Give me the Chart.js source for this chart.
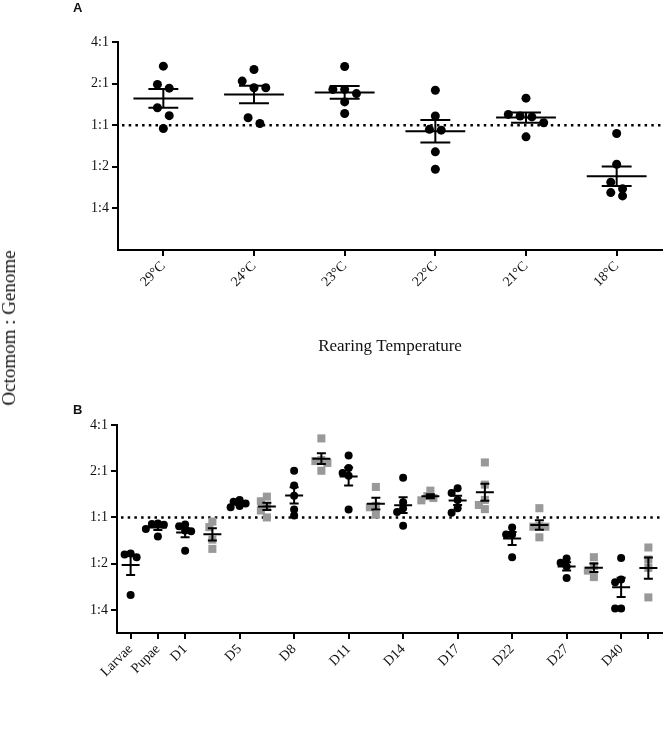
<!DOCTYPE html>
<html>
<head>
<meta charset="utf-8">
<script src="https://cdn.jsdelivr.net/npm/chart.js@4.4.1/dist/chart.umd.min.js"></script>
<style>
  body { margin: 0; background: #fff; }
  #page { position: relative; width: 672px; height: 730px; overflow: hidden; color: #111; font-family: 'Liberation Serif', 'Times New Roman', serif; }
  canvas { position: absolute; left: 0; }
  #chartA { top: 0; }
  #chartB { top: 380px; }
  .panel { position: absolute; left: 73px; font-family: 'Liberation Sans', Arial, sans-serif; font-weight: bold; font-size: 13px; line-height: 15px; }
  #yTitle { position: absolute; left: 9px; top: 328px; transform: translate(-50%, -50%) rotate(-90deg); white-space: nowrap; font-size: 19px; }
</style>
</head>
<body>
<div id="page">
  <canvas id="chartA" width="672" height="361"></canvas>
  <canvas id="chartB" width="672" height="350"></canvas>
  <div class="panel" style="top:0px">A</div>
  <div class="panel" style="top:402px">B</div>
  <div id="yTitle">Octomom : Genome</div>
</div>
<script>
// y axis: log2 of the Octomom : Genome ratio
const yTickValues = [2, 1, 0, -1, -2];
const yTickLabels = ['4:1', '2:1', '1:1', '1:2', '1:4'];

// Panel A - rearing temperature
const tempLabels = ['29°C', '24°C', '23°C', '22°C', '21°C', '18°C'];
const temp29 = [1.42, 0.98, 0.89, 0.42, 0.23, -0.08];
const temp24 = [1.34, 1.06, 0.90, 0.90, 0.18, 0.04];
const temp23 = [1.41, 0.86, 0.86, 0.76, 0.56, 0.28];
const temp22 = [0.84, 0.22, -0.10, -0.12, -0.64, -1.06];
const temp21 = [0.65, 0.26, 0.22, 0.20, 0.06, -0.28];
const temp18 = [-0.20, -0.94, -1.37, -1.53, -1.62, -1.70];

// Panel B - life stage / age (black circles and grey squares)
const stageLabels = ['Larvae', 'Pupae', 'D1', 'D5', 'D8', 'D11', 'D14', 'D17', 'D22', 'D27', 'D40', ''];
const stageTicks = [0, 1, 2, 4, 6, 8, 10, 12, 14, 16, 18, 19];
const blackValues = [
  [-0.78, -0.86, -0.80, -1.68],
  [-0.14, -0.13, -0.16, -0.25, -0.41],
  [-0.15, -0.19, -0.28, -0.30, -0.72],
  [0.38, 0.34, 0.30, 0.25, 0.22],
  [1.01, 0.69, 0.47, 0.17, 0.04],
  [1.34, 1.07, 0.96, 0.90, 0.17],
  [0.86, 0.33, 0.20, 0.12, -0.18],
  [0.63, 0.53, 0.38, 0.20, 0.10],
  [-0.22, -0.37, -0.37, -0.86],
  [-0.89, -0.98, -1.06, -1.31],
  [-0.88, -1.34, -1.40, -1.97, -1.97]
];
// grey series starts at D1
const greyValues = [
  [-0.09, -0.21, -0.48, -0.68],
  [0.45, 0.35, 0.24, 0.15, 0.00],
  [1.71, 1.24, 1.22, 1.18, 1.01],
  [0.66, 0.25, 0.22, 0.06],
  [0.58, 0.46, 0.42, 0.37],
  [1.19, 0.71, 0.38, 0.27, 0.18],
  [0.20, -0.19, -0.20, -0.20, -0.43],
  [-0.86, -1.05, -1.15, -1.29],
  [-0.65, -0.91, -1.09, -1.73]
];

const serif = "'Liberation Serif', 'Times New Roman', serif";

// panel A: points at about the same height go into a centred row
function swarmRows(values, center, sep, yTol) {
  const sorted = values.slice().sort((a, b) => b - a);
  const pts = [];
  let i = 0;
  while (i < sorted.length) {
    let j = i;
    while (j + 1 < sorted.length && sorted[i] - sorted[j + 1] < yTol) j++;
    const n = j - i + 1;
    for (let k = 0; k < n; k++) {
      pts.push({ x: center + (k - (n - 1) / 2) * sep, y: sorted[i + k] });
    }
    i = j + 1;
  }
  return pts;
}

// panel B: pack points next to the centre, letting them overlap a little
// (xPx / yPx = rough pixels per unit, only used for spacing)
function swarmPack(values, center, xPx, yPx, step, minDist) {
  const sorted = values.slice().sort((a, b) => b - a);
  const placed = [];
  return sorted.map(v => {
    for (let k = 0; k < 15; k++) {
      const off = (k === 0 ? 0 : (k % 2 ? -1 : 1) * Math.ceil(k / 2)) * step;
      const clash = placed.some(p => Math.hypot(p.off - off, (p.v - v) * yPx) < minDist);
      if (!clash) {
        placed.push({ off, v });
        return { x: center + off / xPx, y: v };
      }
    }
    return { x: center, y: v };
  });
}

function stats(values) {
  const n = values.length;
  const mean = values.reduce((a, b) => a + b, 0) / n;
  const sd = Math.sqrt(values.reduce((a, b) => a + (b - mean) ** 2, 0) / (n - 1));
  return { mean, sem: sd / Math.sqrt(n) };
}

// mean line with SEM whiskers, drawn over the points
function meanSemPlugin(groups) {
  return {
    id: 'meanSem',
    afterDatasetsDraw(chart) {
      const { ctx, scales: { x, y } } = chart;
      ctx.save();
      ctx.strokeStyle = '#000';
      ctx.lineWidth = 2;
      groups.forEach(g => {
        const s = stats(g.values);
        const ym = y.getPixelForValue(s.mean);
        const yt = y.getPixelForValue(s.mean + s.sem);
        const yb = y.getPixelForValue(s.mean - s.sem);
        const xc = x.getPixelForValue(g.x);
        const mw = x.getPixelForValue(g.x + 0.33) - xc;
        const cw = x.getPixelForValue(g.x + 0.165) - xc;
        ctx.beginPath();
        ctx.moveTo(xc - mw, ym); ctx.lineTo(xc + mw, ym);
        ctx.moveTo(xc, yt); ctx.lineTo(xc, yb);
        ctx.moveTo(xc - cw, yt); ctx.lineTo(xc + cw, yt);
        ctx.moveTo(xc - cw, yb); ctx.lineTo(xc + cw, yb);
        ctx.stroke();
      });
      ctx.restore();
    }
  };
}

// dotted 1:1 reference line
const refLinePlugin = {
  id: 'refLine',
  beforeDatasetsDraw(chart) {
    const { ctx, chartArea, scales: { y } } = chart;
    const y0 = y.getPixelForValue(0);
    ctx.save();
    ctx.strokeStyle = '#000';
    ctx.lineWidth = 2.5;
    ctx.setLineDash([2.5, 4.2]);
    ctx.beginPath();
    ctx.moveTo(chartArea.left + 4, y0);
    ctx.lineTo(chartArea.right, y0);
    ctx.stroke();
    ctx.restore();
  }
};

function makePanel(id, groups, opts) {
  const datasets = groups.map(g => ({
    data: opts.spread(g),
    pointStyle: g.style,
    pointRadius: g.radius,
    backgroundColor: g.color,
    borderColor: g.color,
    borderWidth: 0
  }));

  new Chart(document.getElementById(id), {
    type: 'scatter',
    data: { datasets },
    options: {
      responsive: false,
      animation: false,
      events: [],
      layout: { padding: opts.padding },
      plugins: { legend: { display: false }, tooltip: { enabled: false } },
      scales: {
        x: {
          type: 'linear',
          min: opts.xMin,
          max: opts.xMax,
          afterFit: s => { s.height = opts.xHeight; },
          afterBuildTicks: s => { s.ticks = opts.xTicks.map(v => ({ value: v })); },
          ticks: {
            autoSkip: false, minRotation: 45, maxRotation: 45, padding: 2,
            color: '#111', font: { family: serif, size: 14 },
            callback: (v, i) => opts.xLabels[i]
          },
          grid: { drawOnChartArea: false, drawTicks: true, tickLength: 6, lineWidth: 2, tickWidth: 2, tickColor: '#000' },
          border: { color: '#000', width: 2 },
          title: {
            display: !!opts.xTitle, text: opts.xTitle || '', color: '#111',
            font: { family: serif, size: 17 }, padding: { top: 4, bottom: 4 }
          }
        },
        y: {
          min: opts.yMin,
          max: 2,
          afterFit: s => { s.width = opts.yWidth; },
          afterBuildTicks: s => { s.ticks = yTickValues.map(v => ({ value: v })); },
          ticks: {
            padding: 3, color: '#111', font: { family: serif, size: 14 },
            callback: (v, i) => yTickLabels[i]
          },
          grid: { drawOnChartArea: false, drawTicks: true, tickLength: 6, lineWidth: 2, tickWidth: 2, tickColor: '#000' },
          border: { color: '#000', width: 2 }
        }
      }
    },
    plugins: [refLinePlugin, meanSemPlugin(groups)]
  });
}

window.addEventListener('load', function() {
  // Panel A
  const tempGroups = [temp29, temp24, temp23, temp22, temp21, temp18].map((vals, i) => ({
    values: vals, x: i, style: 'circle', radius: 4.5, color: '#000'
  }));
  makePanel('chartA', tempGroups, {
    spread: g => swarmRows(g.values, g.x, 0.13, 0.216),
    xMin: -0.5, xMax: 5.5, xTicks: tempLabels.map((_, i) => i), xLabels: tempLabels,
    xTitle: 'Rearing Temperature', xHeight: 111,
    yMin: -3, yWidth: 118,
    padding: { top: 42, right: 10, left: 0, bottom: 0 }
  });

  // Panel B
  const stageGroups = [];
  blackValues.forEach((vals, i) => {
    stageGroups.push({ values: vals, x: stageTicks[i], style: 'circle', radius: 4, color: '#000' });
  });
  greyValues.forEach((vals, i) => {
    stageGroups.push({ values: vals, x: stageTicks[i + 2] + 1, style: 'rect', radius: 5.7, color: '#999' });
  });
  makePanel('chartB', stageGroups, {
    spread: g => swarmPack(g.values, g.x, 27.2, 46.4, 3, 6),
    xMin: -0.5, xMax: 19.5, xTicks: stageTicks, xLabels: stageLabels,
    xTitle: '', xHeight: 97,
    yMin: -2.5, yWidth: 117,
    padding: { top: 45, right: 10, left: 0, bottom: 0 }
  });
});
</script>
</body>
</html>
